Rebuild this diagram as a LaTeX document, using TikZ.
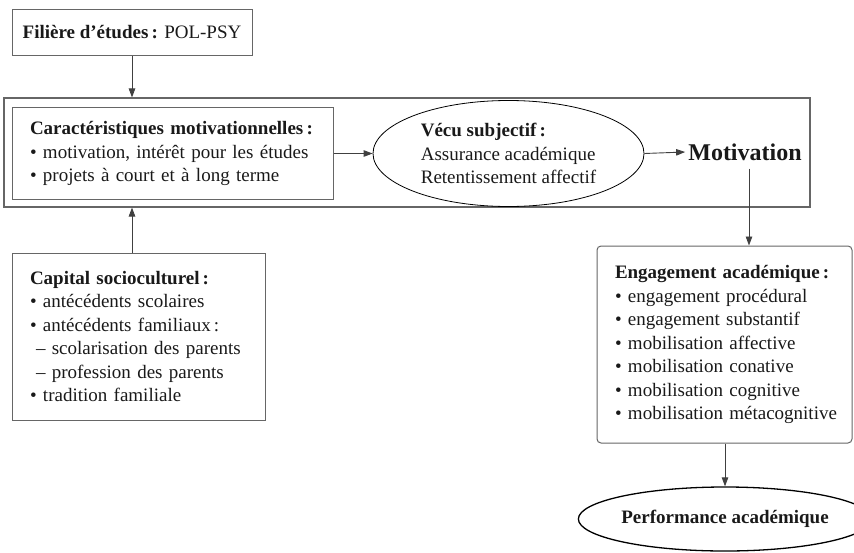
\documentclass[tikz,border=0pt]{standalone}
\usepackage{fontspec}
\setmainfont{Liberation Serif}
\usetikzlibrary{arrows.meta,shapes.geometric}
\begin{document}
\begin{tikzpicture}[x=1pt,y=-1pt,
  txt/.style={font=\fontsize{19}{23.5}\selectfont, text=black!90},
  box/.style={txt, draw=black!60, line width=1pt, inner xsep=18pt, inner ysep=0pt, align=left},
  ell/.style={txt, ellipse, draw=black, line width=0.8pt, inner sep=0pt, align=left},
  arr/.style={draw=black!75, line width=0.9pt, -{Triangle[length=9pt,width=6.5pt]}}
]
\useasboundingbox (0,0) rectangle (854,552);

\node[txt, draw=black!60, line width=1pt, minimum width=240, minimum height=46, inner sep=0pt] (fil) at (132,32.5)
  {\textbf{Filière d’études\,:} POL-PSY};

\node[draw=black!60, line width=1.1pt, minimum width=806, minimum height=109, inner sep=0pt] (outer) at (407,152.5) {};

\node[box, text width=285, minimum height=92] (car) at (172.5,153.5)
  {\textbf{Caractéristiques motivationnelles\,:}\\
   • motivation, intérêt pour les études\\
   • projets à court et à long terme};

\node[ell, minimum width=271, minimum height=106] (vec) at (508.5,153.5)
  {\textbf{Vécu subjectif\,:}\\
   Assurance académique\\
   Retentissement affectif};

\node[font=\fontsize{24}{28}\selectfont\bfseries, text=black!90, inner sep=3pt] (mot) at (745,152) {Motivation};

\node[box, text width=217, minimum height=167] (cap) at (138.5,336.5)
  {\textbf{Capital socioculturel\,:}\\
   • antécédents scolaires\\
   • antécédents familiaux\,:\\
   \mbox{\hspace*{6pt}– scolarisation des parents}\\
   \hspace*{6pt}– profession des parents\\
   • tradition familiale};

\node[box, rounded corners=4pt, text width=219, minimum height=197] (eng) at (724.5,344.5)
  {\mbox{\textbf{Engagement académique\,:}}\\
   • engagement procédural\\
   • engagement substantif\\
   • mobilisation affective\\
   • mobilisation conative\\
   • mobilisation cognitive\\
   \mbox{• mobilisation métacognitive}};

\node[ell, line width=1.3pt, minimum width=256, minimum height=64, font=\fontsize{19}{23.5}\selectfont\bfseries] (perf) at (725,519)
  {Performance académique};

% connectors
\draw[arr] (fil.south) -- (fil.south |- outer.north);
\draw[arr] (car.east) -- (vec.west);
\draw[arr] (vec.east) -- (mot.west);
\coordinate (m1) at ([xshift=4pt,yshift=-5pt]mot.south);
\draw[arr] (m1) -- (m1 |- eng.north);
\draw[arr] (perf.north |- eng.south) -- (perf.north);
\coordinate (c1) at (fil.south |- cap.north);
\draw[arr] (c1) -- (c1 |- outer.south);
\end{tikzpicture}
\end{document}
